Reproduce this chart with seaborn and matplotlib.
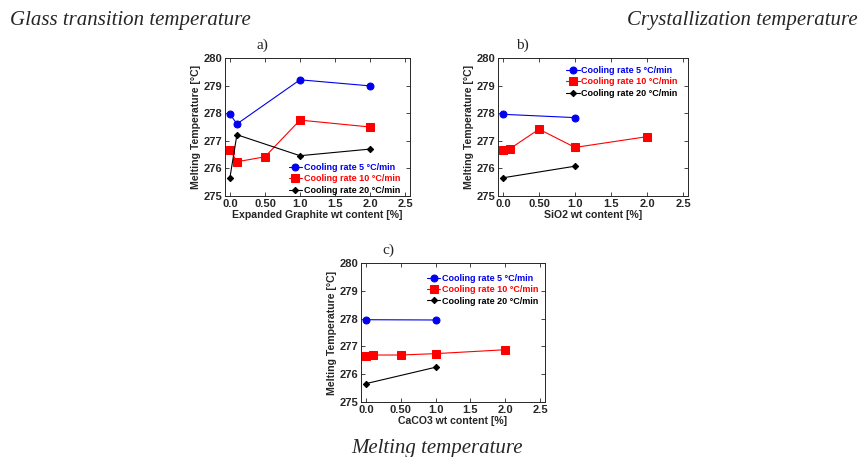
import matplotlib
matplotlib.use('Agg')
import matplotlib.pyplot as plt
import seaborn as sns

sns.set_style('ticks')
plt.rcParams['font.family'] = ['Liberation Sans', 'DejaVu Sans']

# data
rates = ['Cooling rate 5 \u00b0C/min', 'Cooling rate 10 \u00b0C/min', 'Cooling rate 20 \u00b0C/min']
colors = ['#0000ee', '#ff0000', '#000000']
markers = ['o', 's', 'D']
msizes = [5, 5.5, 3.2]

# a) expanded graphite
eg_x5 = [0.0, 0.1, 1.0, 2.0]
eg_y5 = [277.97, 277.61, 279.21, 278.99]
eg_x10 = [0.0, 0.1, 0.5, 1.0, 2.0]
eg_y10 = [276.68, 276.24, 276.42, 277.75, 277.50]
eg_x20 = [0.0, 0.1, 1.0, 2.0]
eg_y20 = [275.66, 277.22, 276.46, 276.70]

# b) SiO2
si_x5 = [0.0, 1.0]
si_y5 = [277.96, 277.84]
si_x10 = [0.0, 0.1, 0.5, 1.0, 2.0]
si_y10 = [276.67, 276.72, 277.42, 276.76, 277.15]
si_x20 = [0.0, 1.0]
si_y20 = [275.66, 276.08]

# c) CaCO3
ca_x5 = [0.0, 1.0]
ca_y5 = [277.96, 277.95]
ca_x10 = [0.0, 0.1, 0.5, 1.0, 2.0]
ca_y10 = [276.67, 276.69, 276.69, 276.74, 276.88]
ca_x20 = [0.0, 1.0]
ca_y20 = [275.66, 276.25]

xticks = [0.0, 0.5, 1.0, 1.5, 2.0, 2.5]
xticklabels = ['0.0', '0.50', '1.0', '1.5', '2.0', '2.5']
yticks = [275, 276, 277, 278, 279, 280]

fig = plt.figure(figsize=(8.61, 4.57), dpi=100)


def panel(rect, series, xlabel, tag, tag_x, legend_loc, legend_anchor):
    ax = fig.add_axes(rect)
    for (x, y), lab, c, m, ms in zip(series, rates, colors, markers, msizes):
        sns.lineplot(x=x, y=y, ax=ax, color=c, marker=m, markersize=ms,
                     markeredgecolor=c, linewidth=0.8, label=lab)
    ax.set_xlim(-0.07, 2.57)
    ax.set_ylim(275, 280)
    ax.set_xticks(xticks)
    ax.set_xticklabels(xticklabels)
    ax.set_yticks(yticks)
    ax.tick_params(direction='in', top=True, right=True, length=3, width=0.6,
                   labelsize=8, pad=2)
    for t in ax.get_xticklabels() + ax.get_yticklabels():
        t.set_fontweight('bold')
    for s in ax.spines.values():
        s.set_linewidth(0.7)
    ax.set_xlabel(xlabel, fontsize=7.6, fontweight='bold', labelpad=1)
    ax.set_ylabel('Melting Temperature [\u00b0C]', fontsize=7.6, fontweight='bold', labelpad=2)
    leg = ax.legend(loc=legend_loc, bbox_to_anchor=legend_anchor, frameon=False,
                    fontsize=6.5, handlelength=1.5, handletextpad=0.2,
                    labelspacing=0.25, borderpad=0.2, borderaxespad=0.1)
    for txt, c in zip(leg.get_texts(), colors):
        txt.set_color(c)
        txt.set_fontweight('bold')
    ax.text(tag_x, 1.045, tag, transform=ax.transAxes, fontsize=11,
            family='Liberation Serif', ha='center', va='bottom')
    return ax


panel([225 / 861, 1 - 196 / 457, 185 / 861, 138 / 457],
      [(eg_x5, eg_y5), (eg_x10, eg_y10), (eg_x20, eg_y20)],
      'Expanded Graphite wt content [%]', 'a)', 0.2, 'lower right', (0.963, -0.01))
panel([498 / 861, 1 - 196 / 457, 190 / 861, 138 / 457],
      [(si_x5, si_y5), (si_x10, si_y10), (si_x20, si_y20)],
      'SiO2 wt content [%]', 'b)', 0.13, 'upper right', (0.96, 0.96))
panel([361 / 861, 1 - 402 / 457, 184 / 861, 139 / 457],
      [(ca_x5, ca_y5), (ca_x10, ca_y10), (ca_x20, ca_y20)],
      'CaCO3 wt content [%]', 'c)', 0.15, 'upper right', (0.98, 0.94))

fig.text(10 / 861, 1 - 20 / 457, 'Glass transition temperature', fontsize=15,
         style='italic', family='Liberation Serif', ha='left', va='center')
fig.text(858 / 861, 1 - 20 / 457, 'Crystallization temperature', fontsize=15,
         style='italic', family='Liberation Serif', ha='right', va='center')
fig.text(437 / 861, 1 - 448 / 457, 'Melting temperature', fontsize=15,
         style='italic', family='Liberation Serif', ha='center', va='center')

fig.savefig('out.png', dpi=100)
